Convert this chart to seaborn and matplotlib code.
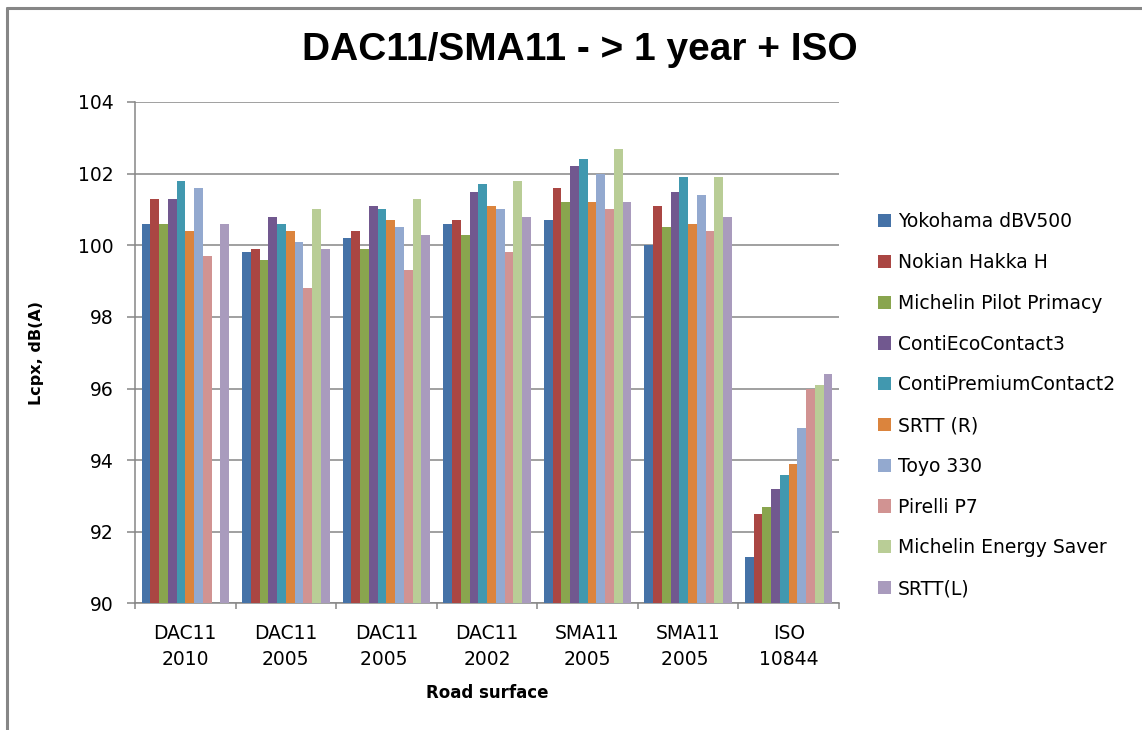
import numpy as np
import pandas as pd
import seaborn as sns
import matplotlib
matplotlib.use("Agg")
import matplotlib.pyplot as plt
from matplotlib.lines import Line2D

# Road surfaces (categories on the x axis)
surfaces = ["DAC11\n2010", "DAC11\n2005", "DAC11\n2005 ", "DAC11\n2002",
            "SMA11\n2005", "SMA11\n2005 ", "ISO\n10844"]

# Tyres (series)
tyres = ["Yokohama dBV500", "Nokian Hakka H", "Michelin Pilot Primacy",
         "ContiEcoContact3", "ContiPremiumContact2", "SRTT (R)", "Toyo 330",
         "Pirelli P7", "Michelin Energy Saver", "SRTT(L)"]

# Lcpx levels, dB(A), one list per tyre, in surface order
yokohama = [100.6, 99.8, 100.2, 100.6, 100.7, 100.0, 91.3]
nokian = [101.3, 99.9, 100.4, 100.7, 101.6, 101.1, 92.5]
pilot_primacy = [100.6, 99.6, 99.9, 100.3, 101.2, 100.5, 92.7]
eco_contact = [101.3, 100.8, 101.1, 101.5, 102.2, 101.5, 93.2]
premium_contact = [101.8, 100.6, 101.0, 101.7, 102.4, 101.9, 93.6]
srtt_r = [100.4, 100.4, 100.7, 101.1, 101.2, 100.6, 93.9]
toyo = [101.6, 100.1, 100.5, 101.0, 102.0, 101.4, 94.9]
pirelli = [99.7, 98.8, 99.3, 99.8, 101.0, 100.4, 96.0]
energy_saver = [np.nan, 101.0, 101.3, 101.8, 102.7, 101.9, 96.1]
srtt_l = [100.6, 99.9, 100.3, 100.8, 101.2, 100.8, 96.4]

series = [yokohama, nokian, pilot_primacy, eco_contact, premium_contact,
          srtt_r, toyo, pirelli, energy_saver, srtt_l]

colors = ["#4572A7", "#AA4643", "#89A54E", "#71588F", "#4198AF",
          "#DB843D", "#93A9CF", "#D19392", "#B9CD96", "#A99BBD"]

rows = []
for tyre, vals in zip(tyres, series):
    for surf, v in zip(surfaces, vals):
        rows.append({"surface": surf, "tyre": tyre, "level": v})
df = pd.DataFrame(rows)

sns.set_theme(style="white")
plt.rcParams["font.family"] = ["DejaVu Sans"]
plt.rcParams["text.color"] = "black"
plt.rcParams["axes.labelcolor"] = "black"

fig = plt.figure(figsize=(11.42, 7.30), dpi=100)
ax = fig.add_axes([0.1182, 0.1733, 0.6165, 0.6870])

sns.barplot(data=df, x="surface", y="level", hue="tyre",
            order=surfaces, hue_order=tyres, palette=colors,
            width=0.87, saturation=1, errorbar=None,
            edgecolor="none", linewidth=0, ax=ax, zorder=3)

grid_c = "#868686"
ax.set_ylim(90, 104)
ax.set_yticks(np.arange(90, 105, 2))
ax.yaxis.grid(True, color=grid_c, linewidth=1.1, zorder=0)
ax.set_axisbelow(True)
ax.set_xlim(-0.5, len(surfaces) - 0.5)

for side in ["top", "right"]:
    ax.spines[side].set_visible(False)
for side in ["left", "bottom"]:
    ax.spines[side].set_color(grid_c)
    ax.spines[side].set_linewidth(1.1)

ax.set_xticks(range(len(surfaces)))
ax.set_xticklabels(surfaces, fontsize=13.5, linespacing=1.45)
ax.set_xticks(np.arange(-0.5, len(surfaces)), minor=True)
ax.tick_params(axis="x", which="major", length=0, pad=15, labelcolor="black")
ax.tick_params(axis="x", which="minor", length=4, width=1.1,
               color=grid_c, direction="out", bottom=True)
ax.tick_params(axis="y", length=5.5, width=1.1, color=grid_c,
               direction="out", left=True, labelsize=13.5, pad=10,
               labelcolor="black")

ax.set_xlabel("Road surface", fontsize=12, fontweight="bold", labelpad=11)
ax.set_ylabel("Lcpx, dB(A)", fontsize=11.5, fontweight="bold", labelpad=24)

fig.text(0.508, 0.931, "DAC11/SMA11 - > 1 year + ISO", ha="center",
         va="center", fontsize=28, fontweight="bold",
         family=["Liberation Sans", "DejaVu Sans"])

handles, labels = ax.get_legend_handles_labels()
leg = ax.legend(handles, labels, loc="center left",
                bbox_to_anchor=(0.769, 0.445), bbox_transform=fig.transFigure,
                frameon=False, fontsize=13.5, borderaxespad=0, borderpad=0,
                handlelength=0.7, handleheight=0.7, handletextpad=0.35,
                labelspacing=1.16)
for t in leg.get_texts():
    t.set_color("black")

# chart border along the top and left edges
fig.add_artist(Line2D([0.0065, 1.0], [0.9897, 0.9897],
                      transform=fig.transFigure, color=grid_c, linewidth=2.2))
fig.add_artist(Line2D([0.0065, 0.0065], [0.0, 0.9897],
                      transform=fig.transFigure, color=grid_c, linewidth=2.2))

fig.savefig("out.png", dpi=100, facecolor="white")
